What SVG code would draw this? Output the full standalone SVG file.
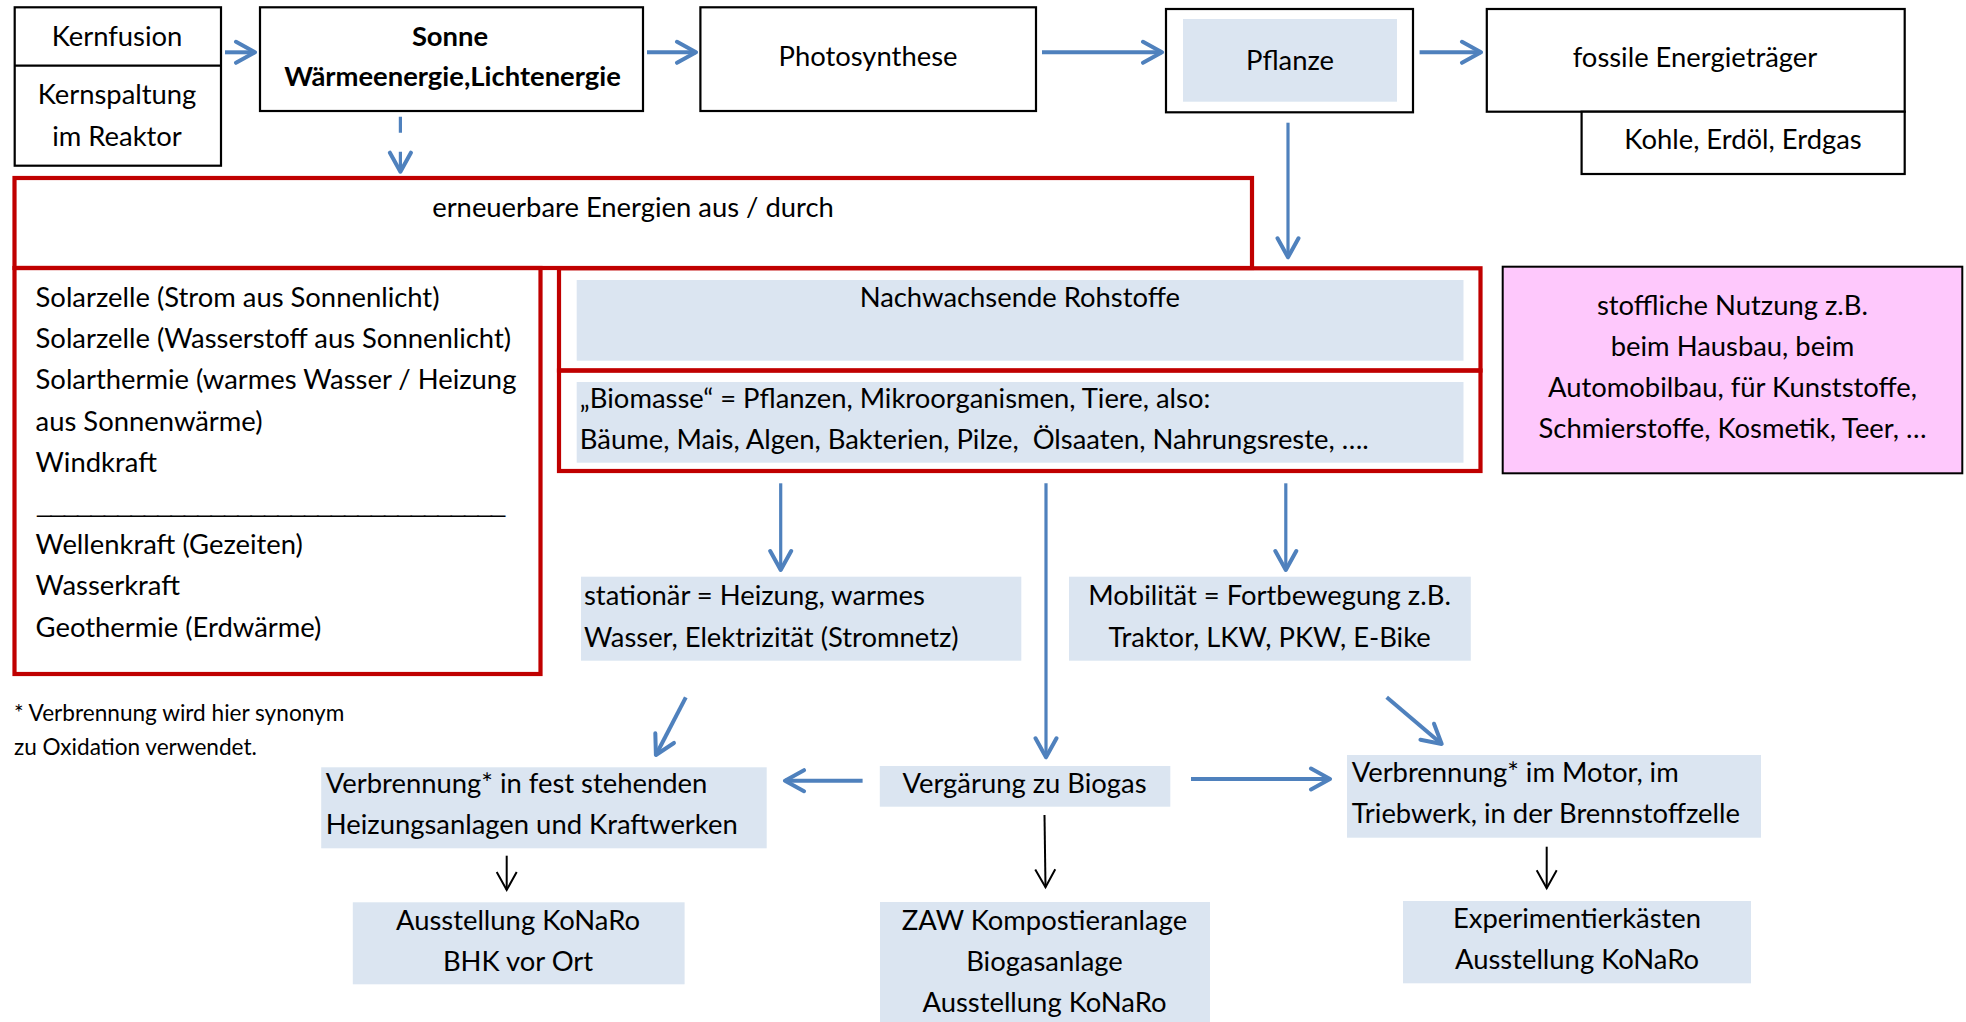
<svg xmlns="http://www.w3.org/2000/svg" width="1966" height="1022" viewBox="0 0 1966 1022">
<style>
.t{font-family:Lato,"Open Sans","Liberation Sans",sans-serif;font-size:27.4px;fill:#000}
.s{font-size:27.4px}
.f{font-size:22.6px}
.b{font-weight:bold}
.m{text-anchor:middle}
.bx{fill:#fff;stroke:#000;stroke-width:2.2}
.rb{fill:none;stroke:#c00000;stroke-width:4.2}
.fl{fill:#dbe5f1}
.pk{fill:#fec8fc;stroke:#000;stroke-width:2}
.ab{fill:none;stroke:#4f81bd;stroke-width:4;marker-end:url(#ha)}
.at{fill:none;stroke:#4f81bd;stroke-width:3.2;marker-end:url(#ha)}
.ak{fill:none;stroke:#000;stroke-width:2;marker-end:url(#hk)}
</style>
<defs>
<marker id="ha" markerUnits="userSpaceOnUse" viewBox="-22 -13 26 26" refX="0" refY="0" markerWidth="26" markerHeight="26" orient="auto">
<path d="M-19,-10.5 L0,0 L-19,10.5" fill="none" stroke="#4f81bd" stroke-width="4" stroke-linecap="round" stroke-linejoin="round"/>
</marker>
<marker id="hk" markerUnits="userSpaceOnUse" viewBox="-22 -13 26 26" refX="0" refY="0" markerWidth="26" markerHeight="26" orient="auto">
<path d="M-18,-10 L0,0 L-18,10" fill="none" stroke="#000" stroke-width="2"/>
</marker>
</defs>
<rect width="1966" height="1022" fill="#fff"/>

<g id="kern">
<rect class="bx" x="14.7" y="7.3" width="206.3" height="158.4"/>
<line x1="14.7" y1="65.7" x2="221" y2="65.7" stroke="#000" stroke-width="2.2"/>
<text class="t s m" x="117" y="45.7">Kernfusion</text>
<text class="t s m" x="117" y="104">Kernspaltung</text>
<text class="t s m" x="117" y="145.7">im Reaktor</text>
</g>
<g id="sonne">
<rect class="bx" x="260" y="7.3" width="383" height="103.7"/>
<text class="t s b m" x="450" y="45.7">Sonne</text>
<text class="t s b m" x="452.6" y="86">Wärmeenergie,Lichtenergie</text>
</g>
<g id="photo">
<rect class="bx" x="700.4" y="7.3" width="335.6" height="103.7"/>
<text class="t s m" x="868" y="65.7">Photosynthese</text>
</g>
<g id="pflanze">
<rect class="bx" x="1166" y="9" width="247" height="103.3"/>
<rect class="fl" x="1183" y="19" width="214" height="82.7"/>
<text class="t s m" x="1290" y="70">Pflanze</text>
</g>
<g id="fossil">
<rect class="bx" x="1486.8" y="9" width="417.9" height="102.7"/>
<text class="t s m" x="1695" y="66.7">fossile Energieträger</text>
</g>
<g id="kohle">
<rect class="bx" x="1581.6" y="111.7" width="323.1" height="62.3"/>
<text class="t s m" x="1743" y="149">Kohle, Erdöl, Erdgas</text>
</g>

<g id="erneuerbar">
<rect class="rb" x="14.5" y="178" width="1237.5" height="90"/>
<text class="t m" x="633" y="217">erneuerbare Energien aus / durch</text>
</g>
<g id="liste">
<rect class="rb" x="14.5" y="268" width="526" height="406"/>
<text class="t" x="35.6" y="306.7">Solarzelle (Strom aus Sonnenlicht)</text>
<text class="t" x="35.6" y="348.3">Solarzelle (Wasserstoff aus Sonnenlicht)</text>
<text class="t" x="35.6" y="389.3">Solarthermie (warmes Wasser / Heizung</text>
<text class="t" x="35.6" y="430.7">aus Sonnenwärme)</text>
<text class="t" x="35.6" y="471.7">Windkraft</text>
<text class="t" x="35.6" y="513" textLength="467" lengthAdjust="spacingAndGlyphs" letter-spacing="-3">___________________________________</text>
<text class="t" x="35.6" y="554.3">Wellenkraft (Gezeiten)</text>
<text class="t" x="35.6" y="595">Wasserkraft</text>
<text class="t" x="35.6" y="636.7">Geothermie (Erdwärme)</text>
</g>
<g id="nachwachsend">
<rect class="fl" x="576.7" y="280" width="886.8" height="80.7"/>
<rect class="rb" x="559" y="268.3" width="921.5" height="102.2"/>
<text class="t m" x="1019.8" y="307.3">Nachwachsende Rohstoffe</text>
</g>
<g id="biomasse">
<rect class="fl" x="576.7" y="382" width="886.8" height="80.7"/>
<rect class="rb" x="559" y="370.5" width="921.5" height="100.5"/>
<text class="t" x="579.8" y="408.3">„Biomasse“ = Pflanzen, Mikroorganismen, Tiere, also:</text>
<text class="t" x="579.8" y="449.3" xml:space="preserve">Bäume, Mais, Algen, Bakterien, Pilze,  Ölsaaten, Nahrungsreste, ….</text>
</g>
<g id="stofflich">
<rect class="pk" x="1502.7" y="266.7" width="459.6" height="206.6"/>
<text class="t m" x="1732.5" y="315">stoffliche Nutzung z.B.</text>
<text class="t m" x="1732.5" y="356">beim Hausbau, beim</text>
<text class="t m" x="1732.5" y="396.7">Automobilbau, für Kunststoffe,</text>
<text class="t m" x="1732.5" y="438.3">Schmierstoffe, Kosmetik, Teer, …</text>
</g>
<g id="stationaer">
<rect class="fl" x="581" y="576.7" width="440.3" height="84"/>
<text class="t" x="584" y="605">stationär = Heizung, warmes</text>
<text class="t" x="584" y="646.7">Wasser, Elektrizität (Stromnetz)</text>
</g>
<g id="mobil">
<rect class="fl" x="1069" y="576.7" width="401.8" height="84"/>
<text class="t m" x="1269.6" y="605">Mobilität = Fortbewegung z.B.</text>
<text class="t m" x="1269.6" y="646.7">Traktor, LKW, PKW, E-Bike</text>
</g>
<g id="fussnote">
<text class="t f" x="14" y="721">* Verbrennung wird hier synonym</text>
<text class="t f" x="14" y="755">zu Oxidation verwendet.</text>
</g>
<g id="verbrennung-fest">
<rect class="fl" x="321.2" y="767.3" width="445.5" height="81"/>
<text class="t" x="325.8" y="793.3">Verbrennung* in fest stehenden</text>
<text class="t" x="325.8" y="834">Heizungsanlagen und Kraftwerken</text>
</g>
<g id="vergaerung">
<rect class="fl" x="879.8" y="766" width="290.5" height="40.7"/>
<text class="t m" x="1024.5" y="793.3">Vergärung zu Biogas</text>
</g>
<g id="verbrennung-motor">
<rect class="fl" x="1347" y="755" width="414" height="82.7"/>
<text class="t" x="1351.7" y="782.3">Verbrennung* im Motor, im</text>
<text class="t" x="1351.7" y="823.3">Triebwerk, in der Brennstoffzelle</text>
</g>
<g id="bhk">
<rect class="fl" x="352.8" y="902.3" width="331.8" height="82"/>
<text class="t m" x="518" y="930">Ausstellung KoNaRo</text>
<text class="t m" x="518" y="971">BHK vor Ort</text>
</g>
<g id="zaw">
<rect class="fl" x="880" y="902" width="330" height="120"/>
<text class="t m" x="1044.5" y="930">ZAW Kompostieranlage</text>
<text class="t m" x="1044.5" y="971">Biogasanlage</text>
<text class="t m" x="1044.5" y="1012">Ausstellung KoNaRo</text>
</g>
<g id="experiment">
<rect class="fl" x="1403" y="901" width="348" height="82.3"/>
<text class="t m" x="1577" y="928.3">Experimentierkästen</text>
<text class="t m" x="1577" y="969.3">Ausstellung KoNaRo</text>
</g>

<g id="connectors">
<line class="ab" x1="225" y1="52.3" x2="255" y2="52.3"/>
<line class="ab" x1="647" y1="52.3" x2="696" y2="52.3"/>
<line class="ab" x1="1042" y1="52.3" x2="1162" y2="52.3"/>
<line class="ab" x1="1419.6" y1="52.3" x2="1481" y2="52.3"/>
<line class="at" x1="400.4" y1="116.7" x2="400.4" y2="171.7" stroke-dasharray="16 19 40"/>
<line class="at" x1="1288" y1="122.7" x2="1288" y2="257.3"/>
<line class="at" x1="780.7" y1="483.3" x2="780.7" y2="570"/>
<line class="at" x1="1285.8" y1="483.3" x2="1285.8" y2="570"/>
<line class="at" x1="1046" y1="483.3" x2="1046" y2="757.3"/>
<line class="ab" x1="685.8" y1="697.3" x2="655.9" y2="755"/>
<line class="ab" x1="1386.7" y1="697.3" x2="1441.7" y2="744"/>
<line class="ab" x1="862.6" y1="780.7" x2="785" y2="780.7"/>
<line class="ab" x1="1191" y1="779" x2="1330" y2="779"/>
<line class="ak" x1="506.7" y1="855.7" x2="506.7" y2="890"/>
<line class="ak" x1="1044.5" y1="815" x2="1045.5" y2="887.3"/>
<line class="ak" x1="1546.7" y1="846.7" x2="1546.7" y2="888.3"/>
</g>
</svg>
